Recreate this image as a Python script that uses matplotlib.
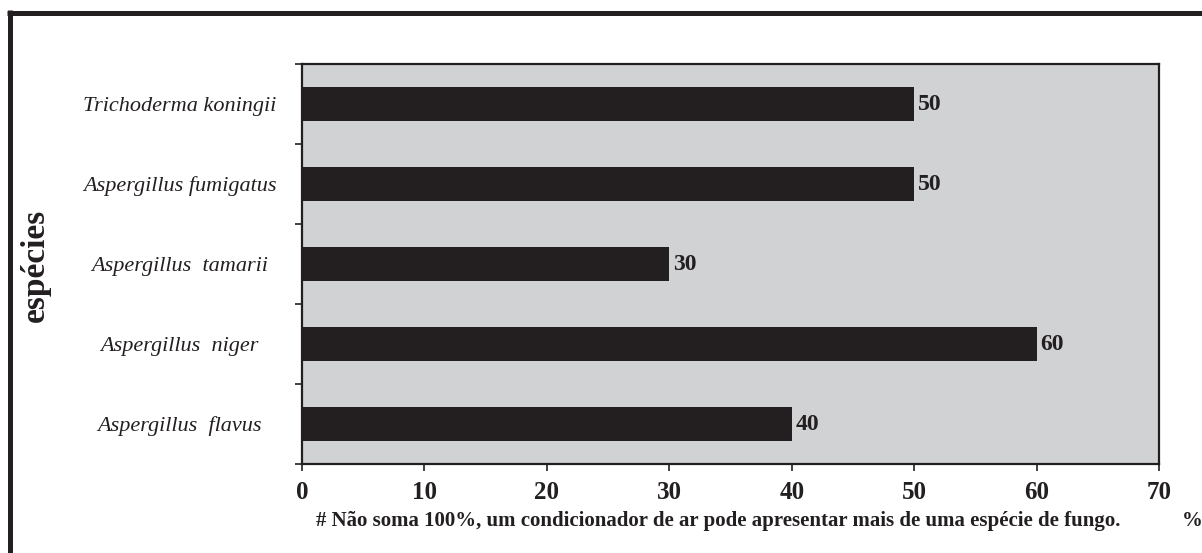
import matplotlib.pyplot as plt
from matplotlib.lines import Line2D
from matplotlib.ticker import MultipleLocator

# data, bottom to top as drawn
species = ['Aspergillus  flavus', 'Aspergillus  niger', 'Aspergillus  tamarii',
           'Aspergillus fumigatus', 'Trichoderma koningii']
percent = [40, 60, 30, 50, 50]
xticks = [0, 10, 20, 30, 40, 50, 60, 70]
footnote = '# Não soma 100%, um condicionador de ar pode apresentar mais de uma espécie de fungo.'

dark = '#231f20'
grey = '#d1d2d4'
plt.rcParams['font.family'] = 'Liberation Serif'

fig = plt.figure(figsize=(12.02, 5.53), dpi=100)
ax = fig.add_axes([302 / 1202, 1 - 464 / 553, 857 / 1202, 400 / 553])
ax.set_facecolor(grey)

pos = list(range(len(species)))
ax.barh(pos, percent, height=0.42, color=dark, zorder=3)
for p, v in zip(pos, percent):
    ax.text(v + 0.3, p, str(v), va='center', ha='left', fontsize=17,
            fontweight='bold', color=dark, zorder=4)

ax.set_xlim(0, 70)
ax.set_ylim(-0.5, len(species) - 0.5)
ax.set_xticks(xticks)
ax.set_xticklabels([str(t) for t in xticks], fontsize=18, fontweight='bold', color=dark)
ax.tick_params(axis='x', direction='out', length=5, width=1.2, color=dark, pad=7)

ax.set_yticks(pos)
ax.set_yticklabels(species, fontsize=16, style='italic', color=dark, ha='center')
ax.yaxis.set_minor_locator(MultipleLocator(1, offset=0.5))
ax.tick_params(axis='y', which='major', length=0, pad=88)
ax.tick_params(axis='y', which='minor', direction='out', length=5, width=1.2, color=dark)

for s in ax.spines.values():
    s.set_color(dark)
    s.set_linewidth(1.6)

fig.text(35 / 1202, 1 - 265 / 553, 'espécies', rotation=90, ha='center', va='center',
         fontsize=24, fontweight='bold', color=dark)
fig.text(316 / 1202, 1 - 521 / 553, footnote, ha='left', va='center',
         fontsize=15, fontweight='bold', color=dark)
fig.text(1192 / 1202, 1 - 521 / 553, '%', ha='center', va='center',
         fontsize=15, fontweight='bold', color=dark)

# outer frame: left and top bars only
fig.add_artist(Line2D([9.5 / 1202, 9.5 / 1202], [0, 1 - 10 / 553],
                      transform=fig.transFigure, color=dark, lw=3.6, solid_capstyle='butt'))
fig.add_artist(Line2D([7 / 1202, 1], [1 - 12.5 / 553, 1 - 12.5 / 553],
                      transform=fig.transFigure, color=dark, lw=3.6, solid_capstyle='butt'))

fig.savefig('out.png', dpi=100)
